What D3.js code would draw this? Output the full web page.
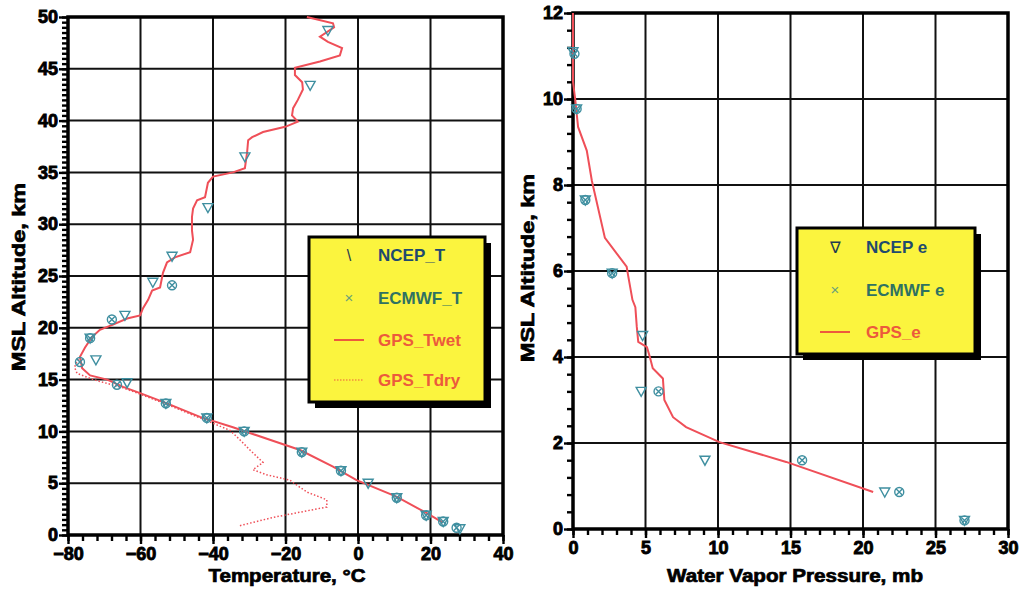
<!DOCTYPE html>
<html>
<head>
<meta charset="utf-8">
<script src="https://cdn.jsdelivr.net/npm/d3@7"></script>
<style>
  body { margin: 0; background: #fff; }
  svg { display: block; }
  text { font-family: "Liberation Sans", Arial, sans-serif; font-weight: bold; }
</style>
</head>
<body>
<svg id="chart" width="1024" height="592"></svg>
<script>

// ---- left panel: temperature profiles [temp °C, altitude km]
const ncepT = [
  [-8.3, 48.7], [-13.2, 43.4], [-31.2, 36.5], [-41.4, 31.6], [-51.3, 26.9],
  [-56.6, 24.4], [-64.3, 21.2], [-73.9, 19.0], [-72.3, 16.9], [-63.7, 14.7],
  [-53, 12.7], [-41.7, 11.3], [-31.4, 10.0], [-15.5, 8.0], [-4.7, 6.2],
  [2.8, 5.0], [10.7, 3.6], [18.8, 1.9], [23.5, 1.3], [28.1, 0.6]
];
const ecmwfT = [
  [-51.3, 24.1], [-67.9, 20.8], [-73.9, 19.0], [-76.7, 16.7], [-66.5, 14.5],
  [-53, 12.7], [-41.7, 11.3], [-31.4, 10.0], [-15.5, 8.0], [-4.7, 6.2],
  [10.7, 3.6], [18.8, 1.9], [23.5, 1.3], [27.2, 0.7]
];
const gpsTwet = [
  [-14.1, 50], [-6.9, 49.4], [-6.6, 49.0], [-10.5, 48.1], [-8.3, 47.6], [-4.4, 47.0],
  [-5, 46.3], [-10.5, 45.7], [-17.4, 45.1], [-17.4, 44.4], [-15.4, 43.7], [-15.2, 43.0],
  [-16.6, 42.0], [-17.9, 41.2], [-18.2, 40.5], [-16.6, 39.9], [-20.1, 39.4], [-26.2, 38.9],
  [-29.2, 38.4], [-30.3, 38.1], [-30.6, 36.9], [-31.2, 35.4], [-34.5, 35.0], [-40, 34.6],
  [-41.4, 34.0], [-42.2, 32.6], [-44.4, 32.3], [-45.5, 31.5], [-45.8, 30.7], [-45.8, 29.4],
  [-45.5, 28.5], [-46.3, 27.3], [-50.5, 26.8], [-52.7, 26.3], [-53.8, 25.3], [-54.6, 23.9],
  [-56.8, 23.6], [-57.9, 22.7], [-59.3, 21.9], [-60.1, 21.2], [-63.7, 20.9], [-67.6, 20.3],
  [-71.2, 19.8], [-73.4, 19.1], [-75.3, 18.1], [-76.7, 17.2], [-76.1, 16.1], [-73.9, 15.4],
  [-69.2, 15.0], [-64.8, 14.3], [-60.1, 13.7], [-52.7, 12.7], [-43.6, 11.4], [-34.5, 10.4],
  [-16, 8.2], [-6.9, 6.6], [-0.4, 5.3], [10.6, 3.7], [19, 2.1], [23.4, 1.2]
];
const gpsTdry = [
  [-77.2, 17.0], [-78.2, 16.2], [-77.5, 15.6], [-73, 15.0], [-64.8, 14.2], [-60.1, 13.6],
  [-52.7, 12.6], [-43.6, 11.3], [-35.3, 10.1], [-32.6, 9.2], [-29.8, 8.2], [-26.2, 7.0],
  [-29, 6.3], [-25.1, 5.8], [-18.8, 5.3], [-16, 4.6], [-13.8, 4.1], [-8.6, 3.4],
  [-8.6, 2.7], [-16, 2.2], [-23.4, 1.7], [-32.6, 0.9]
];

// ---- right panel: water vapour pressure [e mb, altitude km]
const ncepE = [
  [0, 11.1], [0.25, 9.77], [0.85, 7.65], [2.7, 5.95], [4.8, 4.5],
  [4.7, 3.2], [9.1, 1.6], [21.5, 0.86], [27, 0.2]
];
const ecmwfE = [
  [0.1, 11.05], [0.25, 9.77], [0.85, 7.65], [2.7, 5.95], [5.9, 3.2],
  [15.8, 1.6], [22.5, 0.86], [27, 0.2]
];
const gpsE = [
  [0, 12], [0, 10.4], [0.15, 10], [0.35, 9.35], [0.95, 8.8], [1.3, 8.1], [2.2, 6.77],
  [3.7, 6.1], [3.8, 5.9], [4.1, 5.33], [4.3, 5.16], [4.4, 4.7], [4.5, 4.35], [5.1, 4.23],
  [5.3, 4.0], [5.5, 3.74], [6.2, 3.5], [6.3, 3.0], [6.9, 2.6], [7.8, 2.37], [10.1, 2.02],
  [14.7, 1.56], [20.7, 0.86]
];

const tempTicks = [-80, -60, -40, -20, 0, 20, 40];
const altTicksL = [0, 5, 10, 15, 20, 25, 30, 35, 40, 45, 50];
const vapTicks = [0, 5, 10, 15, 20, 25, 30];
const altTicksR = [0, 2, 4, 6, 8, 10, 12];

const legendL = ["NCEP_T", "ECMWF_T", "GPS_Twet", "GPS_Tdry"];
const legendR = ["NCEP  e", "ECMWF  e", "GPS_e"];

const lineColor = "#ef4f58";
const markColor = "#3f8fa0";

const svg = d3.select("#chart");

function styleAxis(s) {
  s.select(".domain").remove();
  s.selectAll(".tick line").style("stroke", "#000").style("stroke-width", "2.4px");
  s.selectAll(".tick text")
    .style("font-size", "18px").style("font-weight", "bold").style("fill", "#000")
    .style("stroke", "#000").style("stroke-width", "0.9px")
    .style("font-family", "'Liberation Sans', Arial, sans-serif");
}

function panel(cfg) {
  let g = svg.append("g");
  let x = d3.scaleLinear().domain(cfg.xDomain).range([cfg.left, cfg.right]);
  let y = d3.scaleLinear().domain(cfg.yDomain).range([cfg.bottom, cfg.top]);

  // grid
  g.append("g").selectAll("line").data(cfg.xTicks).enter().append("line")
    .attr("x1", d => x(d)).attr("x2", d => x(d))
    .attr("y1", cfg.top).attr("y2", cfg.bottom)
    .attr("stroke", "#111").attr("stroke-width", 2);
  g.append("g").selectAll("line").data(cfg.yTicks).enter().append("line")
    .attr("y1", d => y(d)).attr("y2", d => y(d))
    .attr("x1", cfg.left).attr("x2", cfg.right)
    .attr("stroke", "#111").attr("stroke-width", 2);

  // axes with minor ticks
  let xMinor = d3.range(cfg.xDomain[0], cfg.xDomain[1] + 1e-9, cfg.xMinor);
  let yMinor = d3.range(cfg.yDomain[0], cfg.yDomain[1] + 1e-9, cfg.yMinor);
  let xAxisMinor = d3.axisBottom(x).tickValues(xMinor).tickSize(6).tickFormat(() => "");
  let yAxisMinor = d3.axisLeft(y).tickValues(yMinor).tickSize(6).tickFormat(() => "");
  let xAxis = d3.axisBottom(x).tickValues(cfg.xTicks).tickSize(9).tickPadding(3);
  let yAxis = d3.axisLeft(y).tickValues(cfg.yTicks).tickSize(9).tickPadding(1);

  [xAxisMinor, xAxis].forEach(a => {
    g.append("g").attr("transform", "translate(0," + cfg.bottom + ")").call(a).call(styleAxis);
  });
  [yAxisMinor, yAxis].forEach(a => {
    g.append("g").attr("transform", "translate(" + cfg.left + ",0)").call(a).call(styleAxis);
  });

  // frame
  g.append("rect")
    .attr("x", cfg.left).attr("y", cfg.top)
    .attr("width", cfg.right - cfg.left).attr("height", cfg.bottom - cfg.top)
    .attr("fill", "none").attr("stroke", "#000").attr("stroke-width", 3.5);

  // titles
  g.append("text")
    .attr("x", cfg.xTitleX).attr("y", 582)
    .attr("text-anchor", "middle").attr("font-size", 18)
    .attr("stroke", "#000").attr("stroke-width", 0.7)
    .attr("textLength", cfg.xTitleLen).attr("lengthAdjust", "spacingAndGlyphs")
    .text(cfg.xTitle);
  g.append("text")
    .attr("transform", "translate(" + cfg.yTitleX + "," + cfg.yTitleY + ") rotate(-90)")
    .attr("text-anchor", "middle").attr("font-size", 18)
    .attr("stroke", "#000").attr("stroke-width", 0.7)
    .attr("textLength", 188).attr("lengthAdjust", "spacingAndGlyphs")
    .text("MSL Altitude, km");

  let line = d3.line().x(d => x(d[0])).y(d => y(d[1]));
  let plot = g.append("g");

  (cfg.dotted || []).forEach(series => {
    plot.append("path").datum(series).attr("d", line)
      .attr("fill", "none").attr("stroke", lineColor)
      .attr("stroke-width", 1.5).attr("stroke-dasharray", "1.5,2");
  });
  plot.append("path").datum(cfg.solid).attr("d", line)
    .attr("fill", "none").attr("stroke", lineColor).attr("stroke-width", 2);

  // ECMWF: circled x
  let ec = plot.selectAll(".ec").data(cfg.ecmwf).enter().append("g")
    .attr("transform", d => "translate(" + x(d[0]) + "," + y(d[1]) + ")")
    .attr("stroke", markColor).attr("stroke-width", 1.4).attr("fill", "none");
  ec.append("circle").attr("r", 4.5);
  ec.append("path").attr("d", "M-3,-3L3,3M-3,3L3,-3");

  // NCEP: nabla
  plot.selectAll(".nc").data(cfg.ncep).enter().append("path")
    .attr("transform", d => "translate(" + x(d[0]) + "," + y(d[1]) + ")")
    .attr("d", "M-5,-4L5,-4L0,5Z")
    .attr("fill", "none").attr("stroke", markColor).attr("stroke-width", 1.4);

  // legend
  let lg = g.append("g").attr("transform", "translate(" + cfg.legend.x + "," + cfg.legend.y + ")");
  lg.append("rect").attr("x", 6).attr("y", 6)
    .attr("width", cfg.legend.w).attr("height", cfg.legend.h).attr("fill", "#000");
  lg.append("rect").attr("width", cfg.legend.w).attr("height", cfg.legend.h)
    .attr("fill", "#fbf43e").attr("stroke", "#000").attr("stroke-width", 3);

  let colors = ["#1f4a6e", "#2f7262", "#ec5a3c", "#ec5a3c"];
  cfg.legend.labels.forEach((lab, i) => {
    let ry = cfg.legend.rowY[i];
    lg.append("text").attr("x", cfg.legend.textX).attr("y", ry + 6)
      .attr("font-size", 17).attr("fill", colors[i]).text(lab);
    let sx = cfg.legend.symX;
    if (i === 0) {
      lg.append("text").attr("x", sx).attr("y", ry + 6).attr("text-anchor", "middle")
        .attr("font-size", 16).attr("fill", "#1f3a4e")
        .style("font-family", cfg.legend.nablaFont).style("font-weight", "normal")
        .text(cfg.legend.nabla);
    } else if (i === 1) {
      lg.append("text").attr("x", sx).attr("y", ry + 5).attr("text-anchor", "middle")
        .attr("font-size", 15).style("font-weight", "normal").attr("fill", "#6aa07a").text("×");
    } else {
      lg.append("line").attr("x1", sx - 15).attr("x2", sx + 15).attr("y1", ry).attr("y2", ry)
        .attr("stroke", "#ee5a3c").attr("stroke-width", i === 2 ? 2 : 1.2)
        .attr("stroke-dasharray", i === 2 ? null : "1.5,1.5");
    }
  });
}

panel({
  left: 68, right: 503, top: 17, bottom: 535,
  xDomain: [-80, 40], yDomain: [0, 50],
  xTicks: tempTicks, yTicks: altTicksL, xMinor: 4, yMinor: 0.5,
  xTitle: "Temperature, °C", xTitleX: 287, xTitleLen: 157,
  yTitleX: 25, yTitleY: 277,
  solid: gpsTwet, dotted: [gpsTdry], ncep: ncepT, ecmwf: ecmwfT,
  legend: { x: 309, y: 237, w: 176, h: 165, labels: legendL,
    rowY: [18, 61, 103, 143], textX: 69, symX: 40, nabla: "\\", nablaFont: "Liberation Sans" }
});

panel({
  left: 573, right: 1008, top: 13, bottom: 529,
  xDomain: [0, 30], yDomain: [0, 12],
  xTicks: vapTicks, yTicks: altTicksR, xMinor: 1, yMinor: 0.4,
  xTitle: "Water Vapor Pressure, mb", xTitleX: 795, xTitleLen: 256,
  yTitleX: 534, yTitleY: 268,
  solid: gpsE, dotted: [], ncep: ncepE, ecmwf: ecmwfE,
  legend: { x: 797, y: 228, w: 178, h: 126, labels: legendR,
    rowY: [19, 62, 104], textX: 69, symX: 38, nabla: "∇", nablaFont: "Liberation Serif" }
});

</script>
</body>
</html>
